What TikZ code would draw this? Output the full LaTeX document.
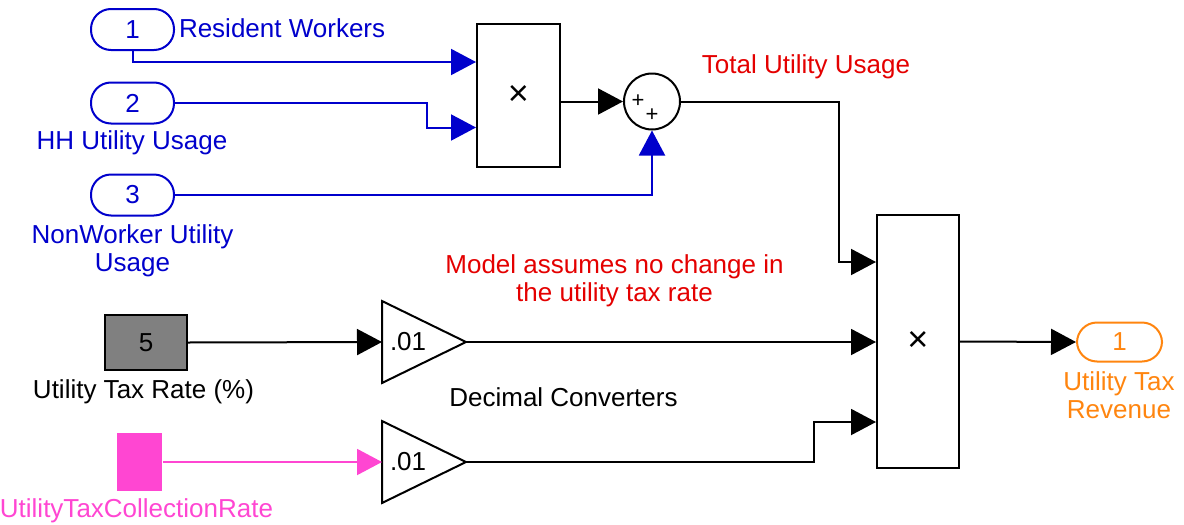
\documentclass[tikz,border=0pt]{standalone}
\usepackage{fontspec}
\setmainfont{Liberation Sans}
\usetikzlibrary{arrows.meta,calc}
\definecolor{sigblue}{RGB}{0,0,204}
\definecolor{note}{RGB}{228,0,0}
\definecolor{outc}{RGB}{255,133,15}
\definecolor{pinkc}{RGB}{255,70,210}
\definecolor{constc}{RGB}{128,128,128}
\tikzset{
  every picture/.style={line width=1pt, line join=miter,
    >={Triangle[length=12.5pt,width=13pt]}},
  every node/.style={font=\fontsize{13}{14.25}\selectfont},
  % Blöcke
  port/.style={draw, rounded corners=10pt, minimum width=41.5pt, minimum height=20.5pt, inner sep=0pt},
  blk/.style={draw, inner sep=0pt},
  gainbox/.style={inner sep=0pt, inner xsep=3.5pt, text width=34pt, minimum height=40pt, align=left},
  sumc/.style={draw, circle, inner sep=0pt, minimum size=28pt},
  sgn/.style={font=\fontsize{11}{11}\selectfont, inner sep=0pt},
  mul/.style={font=\fontsize{18}{18}\selectfont},
  % Beschriftung
  lbl/.style={inner sep=0pt, align=center},
}
\begin{document}
\begin{tikzpicture}[x=0.5pt, y=-0.5pt]
  \useasboundingbox (0,0) rectangle (1184,525);
  % Eingänge
  \node[port, sigblue] (in1) at (132.5,29.5) {1};
  \node[port, sigblue] (in2) at (132.5,103) {2};
  \node[port, sigblue] (in3) at (132.5,195) {3};
  \node[lbl, sigblue, anchor=base west] (l1) at (178,37.3) {Resident Workers};
  \node[lbl, sigblue, anchor=base] (l2) at (132,149.5) {HH Utility Usage};
  \node[lbl, sigblue] (l3) at (132.5,251) {NonWorker Utility\\Usage};
  % Produkt und Summe
  \node[blk, minimum width=41.5pt, minimum height=71.5pt] (prod1) at (518.5,95.5) {};
  \node[mul] (x1) at (prod1.center) {×};
  \node[sumc] (sum) at (652,101.5) {};
  \node[sgn] (sp1) at (638,101) {+};
  \node[sgn] (sp2) at (652,115) {+};
  \node[lbl, note, anchor=base] (ltot) at (806,73.3) {Total Utility Usage};
  \draw[->, sigblue] (in1.south) |- (prod1.west |- 0,62);
  \draw[->, sigblue] (in2.east) -- ++(252,0) |- (prod1.west |- 0,127.5);
  \draw[->, sigblue] (in3.east) -| (sum.south);
  \draw[->] (prod1.east |- sum.west) -- (sum.west);
  % Steuersatz und Umrechnung
  \node[blk, fill=constc, minimum width=41pt, minimum height=27.5pt] (rate) at (146,342.5) {5};
  \node[lbl, anchor=base] (lrate) at (143.5,398.3) {Utility Tax Rate (\%)};
  \node[fill=pinkc, inner sep=0pt, minimum width=22.5pt, minimum height=29pt] (coll) at (139.5,462) {};
  \node[lbl, pinkc, anchor=base] (lcoll) at (136.5,517) {UtilityTaxCollectionRate};
  \node[gainbox] (g1) at (424,342) {.01};
  \node[gainbox] (g2) at (424,462) {.01};
  \draw (g1.north west) -- (g1.east) -- (g1.south west) -- cycle;
  \draw (g2.north west) -- (g2.east) -- (g2.south west) -- cycle;
  \node[lbl, anchor=base] (ldec) at (563.5,406) {Decimal Converters};
  \node[lbl, note] (lmod) at (614.5,281) {Model assumes no change in\\the utility tax rate};
  \draw[->] (rate.east) -- (g1.west);
  \draw[->, pinkc] (coll.east) -- (g2.west);
  % Ergebnis
  \node[blk, minimum width=41pt, minimum height=126.5pt] (prod2) at (918,341.5) {};
  \node[mul] (x2) at (prod2.center) {×};
  \node[port, outc, minimum width=42.5pt, minimum height=19.5pt] (out) at (1119.5,342) {1};
  \node[lbl, outc] (lout) at (1119,395) {Utility Tax\\Revenue};
  \draw[->] (sum.east) -- ++(158,0) |- (prod2.west |- 0,262);
  \draw[->] (g1.east) -- (prod2.west |- g1.east);
  \draw[->] (g2.east) -- ++(348,0) |- (prod2.west |- 0,422);
  \draw[->] (prod2.east) -- (out.west);
\end{tikzpicture}
\end{document}
